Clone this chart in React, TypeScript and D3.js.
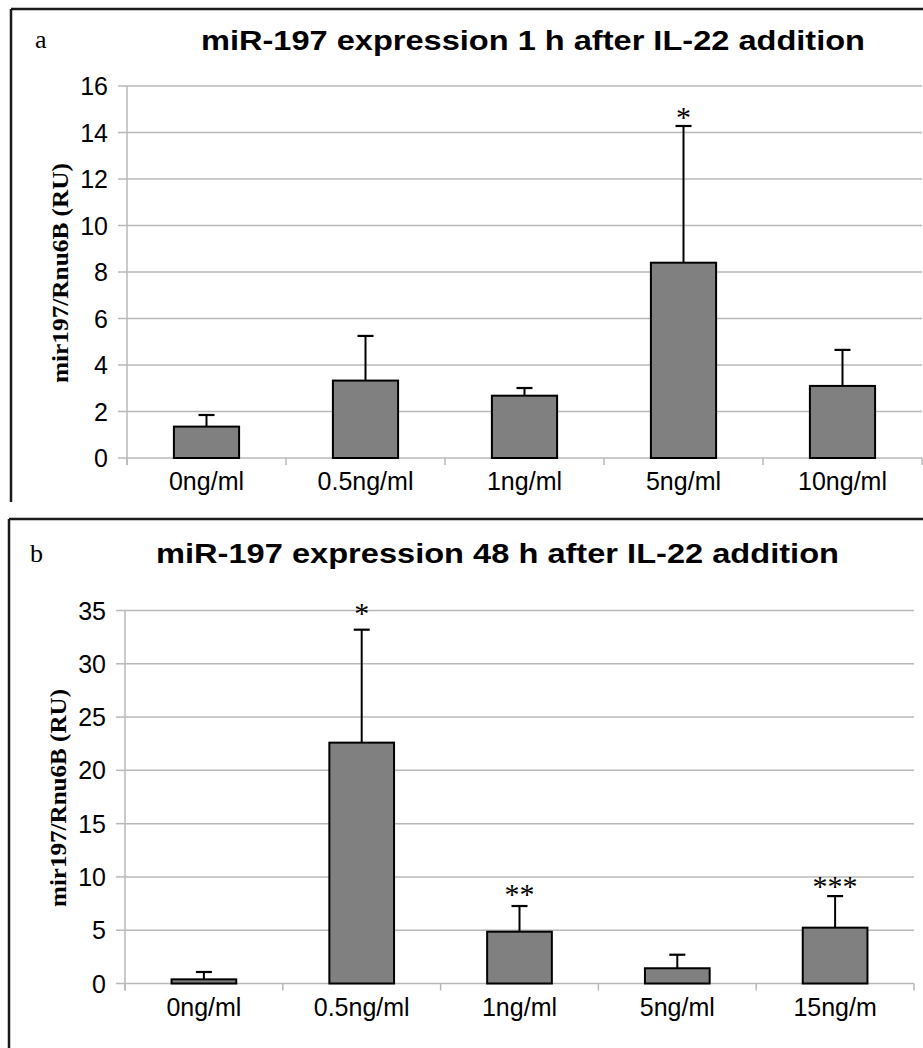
import React from "react";
import * as d3 from "d3";

// ---- Data ----
const catsA = ["0ng/ml", "0.5ng/ml", "1ng/ml", "5ng/ml", "10ng/ml"];
const meanA = [1.35, 3.33, 2.68, 8.4, 3.1];
const errA = [0.5, 1.92, 0.33, 5.88, 1.55];
const starsA = ["", "", "", "*", ""];
const starAtA = [0, 0, 0, 14.88, 0];
const ticksA = [0, 2, 4, 6, 8, 10, 12, 14, 16];

const catsB = ["0ng/ml", "0.5ng/ml", "1ng/ml", "5ng/ml", "15ng/m"];
const meanB = [0.39, 22.6, 4.86, 1.43, 5.24];
const errB = [0.69, 10.6, 2.41, 1.27, 2.96];
const starsB = ["", "*", "**", "", "***"];
const starAtB = [0, 35.2, 8.8, 0, 9.55];
const ticksB = [0, 5, 10, 15, 20, 25, 30, 35];

const titleA = "miR-197 expression 1 h after IL-22 addition";
const titleB = "miR-197 expression 48 h after IL-22 addition";
const yLabel = "mir197/Rnu6B (RU)";

const SANS = "'Liberation Sans', Arial, sans-serif";
const SERIF = "'Liberation Serif', 'Times New Roman', serif";

type PanelProps = {
  cats: string[];
  mean: number[];
  err: number[];
  stars: string[];
  starAt: number[];
  ticks: number[];
  title: string;
  letter: string;
  x0: number;
  x1: number;
  yTop: number;
  yBot: number;
  titleX: number;
  titleW: number;
  titleY: number;
  letterX: number;
  letterY: number;
  labelX: number;
  labelW: number;
  boxX: number;
  boxY: number;
  boxBottom: number;
};

function Panel(p: PanelProps) {
  const x = d3
    .scaleBand<string>()
    .domain(p.cats)
    .range([p.x0, p.x1])
    .paddingInner(0.59)
    .paddingOuter(0.295);
  const yMax = p.ticks[p.ticks.length - 1];
  const y = d3.scaleLinear().domain([0, yMax]).range([p.yBot, p.yTop]);
  const step = x.step();
  const boundaries = d3.range(p.cats.length + 1).map((i) => p.x0 + i * step);
  const grid = "#b8b8b8";
  const starSize = 30;

  return (
    <g>
      {/* panel frame */}
      <line x1={p.boxX} y1={p.boxY} x2={923} y2={p.boxY} stroke="#1a1a1a" strokeWidth={2.5} />
      <line x1={p.boxX} y1={p.boxY} x2={p.boxX} y2={p.boxBottom} stroke="#1a1a1a" strokeWidth={2.5} />

      <text x={p.letterX} y={p.letterY} fontFamily={SERIF} fontSize={26} fill="#000">
        {p.letter}
      </text>
      <text
        x={p.titleX}
        y={p.titleY}
        fontFamily={SANS}
        fontSize={27}
        fontWeight="bold"
        textLength={p.titleW}
        lengthAdjust="spacingAndGlyphs"
        fill="#000"
      >
        {p.title}
      </text>

      {/* gridlines and y ticks */}
      {p.ticks.map((t) => (
        <g key={t}>
          <line x1={p.x0} x2={p.x1} y1={y(t)} y2={y(t)} stroke={grid} strokeWidth={1.5} />
          <line x1={p.x0 - 9} x2={p.x0} y1={y(t)} y2={y(t)} stroke={grid} strokeWidth={1.5} />
          <text
            x={p.x0 - 19}
            y={y(t)}
            dy="0.36em"
            textAnchor="end"
            fontFamily={SANS}
            fontSize={25}
            fill="#000"
          >
            {t}
          </text>
        </g>
      ))}
      {/* y axis line */}
      <line x1={p.x0} x2={p.x0} y1={y(yMax)} y2={p.yBot + 7} stroke={grid} strokeWidth={1.5} />
      {/* x category ticks */}
      {boundaries.map((b, i) => (
        <line key={i} x1={b} x2={b} y1={p.yBot} y2={p.yBot + 7} stroke={grid} strokeWidth={1.5} />
      ))}

      {/* bars */}
      {p.cats.map((c, i) => {
        const bx = x(c)!;
        const bw = x.bandwidth();
        const cx = bx + bw / 2;
        const top = y(p.mean[i]);
        const etop = y(p.mean[i] + p.err[i]);
        return (
          <g key={c}>
            <line x1={cx} x2={cx} y1={top} y2={etop} stroke="#000" strokeWidth={2} />
            <line x1={cx - 8} x2={cx + 8} y1={etop} y2={etop} stroke="#000" strokeWidth={2.2} />
            <rect
              x={bx}
              y={top}
              width={bw}
              height={p.yBot - top}
              fill="#808080"
              stroke="#000"
              strokeWidth={2}
            />
            {p.stars[i] ? (
              <text
                x={cx}
                y={y(p.starAt[i]) + starSize * 0.49}
                textAnchor="middle"
                fontFamily={SERIF}
                fontSize={starSize}
                fill="#000"
              >
                {p.stars[i]}
              </text>
            ) : null}
            <text
              x={cx}
              y={p.yBot + 32}
              textAnchor="middle"
              fontFamily={SANS}
              fontSize={25}
              fill="#000"
            >
              {c}
            </text>
          </g>
        );
      })}

      {/* y label */}
      <text
        transform={`translate(${p.labelX},${(p.yTop + p.yBot) / 2 + 1}) rotate(-90)`}
        textAnchor="middle"
        fontFamily={SERIF}
        fontWeight="bold"
        fontSize={24}
        textLength={p.labelW}
        lengthAdjust="spacingAndGlyphs"
        fill="#000"
      >
        {yLabel}
      </text>
    </g>
  );
}

export default function App() {
  return (
    <svg
      width={923}
      height={1048}
      style={{ position: "absolute", left: 0, top: 0, display: "block", background: "#fff" }}
    >
      <rect x={0} y={0} width={923} height={1048} fill="#fff" />
      <Panel
        cats={catsA}
        mean={meanA}
        err={errA}
        stars={starsA}
        starAt={starAtA}
        ticks={ticksA}
        title={titleA}
        letter="a"
        x0={127}
        x1={922}
        yTop={86}
        yBot={458}
        titleX={201}
        titleW={664}
        titleY={50}
        letterX={35}
        letterY={48}
        labelX={68}
        labelW={220}
        boxX={11}
        boxY={9}
        boxBottom={502}
      />
      <Panel
        cats={catsB}
        mean={meanB}
        err={errB}
        stars={starsB}
        starAt={starAtB}
        ticks={ticksB}
        title={titleB}
        letter="b"
        x0={125}
        x1={914}
        yTop={610.5}
        yBot={983.5}
        titleX={156}
        titleW={683}
        titleY={563}
        letterX={30}
        letterY={562}
        labelX={66}
        labelW={218}
        boxX={9}
        boxY={519}
        boxBottom={1048}
      />
    </svg>
  );
}
